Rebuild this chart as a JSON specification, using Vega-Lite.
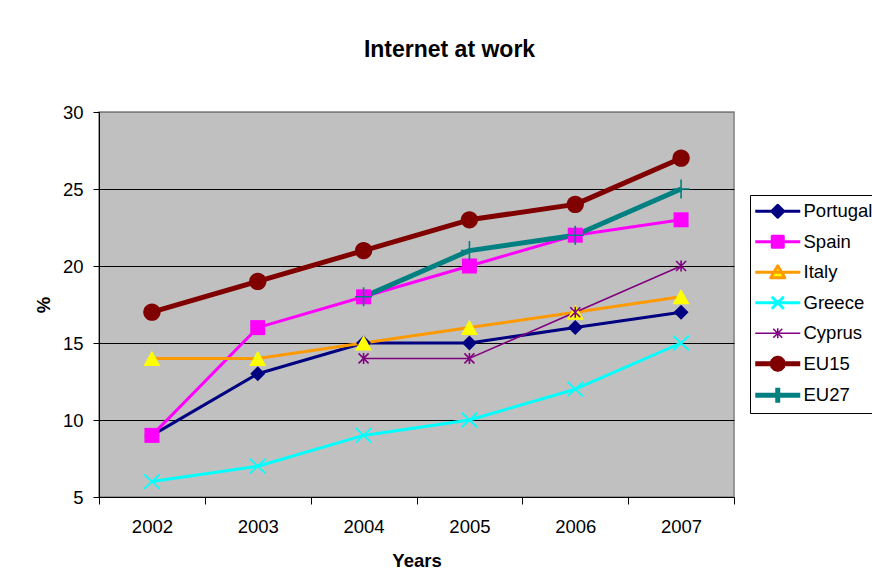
{
  "$schema": "https://vega.github.io/schema/vega-lite/v6.json",
  "width": 635,
  "height": 385,
  "autosize": {"type": "none"},
  "padding": {"left": 99, "top": 112, "right": 138, "bottom": 88},
  "background": "white",
  "title": {
    "text": "Internet at work",
    "fontSize": 23,
    "fontWeight": "bold",
    "font": "Liberation Sans",
    "color": "black",
    "anchor": "middle",
    "dx": 33,
    "offset": 23,
    "baseline": "alphabetic"
  },
  "config": {
    "font": "Liberation Sans",
    "view": {"fill": "#C0C0C0", "stroke": "#808080", "strokeWidth": 1.5}
  },
  "data": {
    "values": [
      {"series": "Portugal", "year": "2002", "value": 9},
      {"series": "Portugal", "year": "2003", "value": 13},
      {"series": "Portugal", "year": "2004", "value": 15},
      {"series": "Portugal", "year": "2005", "value": 15},
      {"series": "Portugal", "year": "2006", "value": 16},
      {"series": "Portugal", "year": "2007", "value": 17},
      {"series": "Spain", "year": "2002", "value": 9},
      {"series": "Spain", "year": "2003", "value": 16},
      {"series": "Spain", "year": "2004", "value": 18},
      {"series": "Spain", "year": "2005", "value": 20},
      {"series": "Spain", "year": "2006", "value": 22},
      {"series": "Spain", "year": "2007", "value": 23},
      {"series": "Italy", "year": "2002", "value": 14},
      {"series": "Italy", "year": "2003", "value": 14},
      {"series": "Italy", "year": "2004", "value": 15},
      {"series": "Italy", "year": "2005", "value": 16},
      {"series": "Italy", "year": "2006", "value": 17},
      {"series": "Italy", "year": "2007", "value": 18},
      {"series": "Greece", "year": "2002", "value": 6},
      {"series": "Greece", "year": "2003", "value": 7},
      {"series": "Greece", "year": "2004", "value": 9},
      {"series": "Greece", "year": "2005", "value": 10},
      {"series": "Greece", "year": "2006", "value": 12},
      {"series": "Greece", "year": "2007", "value": 15},
      {"series": "Cyprus", "year": "2004", "value": 14},
      {"series": "Cyprus", "year": "2005", "value": 14},
      {"series": "Cyprus", "year": "2006", "value": 17},
      {"series": "Cyprus", "year": "2007", "value": 20},
      {"series": "EU15", "year": "2002", "value": 17},
      {"series": "EU15", "year": "2003", "value": 19},
      {"series": "EU15", "year": "2004", "value": 21},
      {"series": "EU15", "year": "2005", "value": 23},
      {"series": "EU15", "year": "2006", "value": 24},
      {"series": "EU15", "year": "2007", "value": 27},
      {"series": "EU27", "year": "2004", "value": 18},
      {"series": "EU27", "year": "2005", "value": 21},
      {"series": "EU27", "year": "2006", "value": 22},
      {"series": "EU27", "year": "2007", "value": 25}
    ]
  },
  "encoding": {
    "x": {
      "field": "year",
      "type": "ordinal",
      "scale": {"type": "band", "paddingInner": 0, "paddingOuter": 0},
      "axis": {
        "title": "Years",
        "labelAngle": 0,
        "labelFontSize": 18.5,
        "labelColor": "black",
        "labelPadding": 13,
        "tickBand": "extent",
        "tickSize": 7,
        "tickColor": "black",
        "domainColor": "black",
        "grid": false,
        "titleFontSize": 18.5,
        "titleFontWeight": "bold",
        "titleColor": "black",
        "titlePadding": 16
      }
    },
    "y": {
      "field": "value",
      "type": "quantitative",
      "scale": {"domain": [5, 30], "nice": false, "zero": false},
      "axis": {
        "title": "%",
        "values": [5, 10, 15, 20, 25, 30],
        "labelFontSize": 18.5,
        "labelColor": "black",
        "labelPadding": 10,
        "tickSize": 6,
        "tickColor": "black",
        "domainColor": "black",
        "grid": true,
        "gridColor": {"condition": {"test": "datum.value >= 30", "value": "#808080"}, "value": "black"},
        "gridWidth": 1,
        "gridOpacity": 1,
        "titleFontSize": 18.5,
        "titleFontWeight": "bold",
        "titleColor": "black",
        "titlePadding": 9
      }
    }
  },
  "layer": [
    {
      "encoding": {
        "stroke": {
          "field": "series",
          "type": "nominal",
          "scale": {
            "domain": ["Portugal", "Spain", "Italy", "Greece", "Cyprus", "EU15", "EU27"],
            "range": ["#000080", "#FF00FF", "#FF9900", "#00FFFF", "#800080", "#800000", "#008080"]
          },
          "legend": {
            "title": null,
            "orient": "none",
            "legendX": 651,
            "legendY": 83,
            "strokeColor": "black",
            "fillColor": "white",
            "padding": 7,
            "symbolSize": 400,
            "symbolStrokeWidth": 1.5,
            "labelFontSize": 18.5,
            "labelColor": "black",
            "labelOffset": 28,
            "labelLimit": 400,
            "rowPadding": 11.5,
            "encode": {
              "symbols": {
                "update": {
                  "shape": {"signal": "datum.value === 'Portugal' ? 'M-1.1,0L3.4,0M1.15,-0.6L1.75,0L1.15,0.6L0.55,0Z' : datum.value === 'Spain' ? 'M-1.1,0L3.4,0M0.6,-0.55L1.7,-0.55L1.7,0.55L0.6,0.55Z' : datum.value === 'Italy' ? 'M-1.1,0L3.4,0M1.15,-0.65L1.85,0.55L0.45,0.55Z' : datum.value === 'Greece' ? 'M-1.1,0L3.4,0M0.55,-0.6L1.75,0.6M0.55,0.6L1.75,-0.6' : datum.value === 'Cyprus' ? 'M-1.1,0L3.4,0M0.7,-0.45L1.6,0.45M0.7,0.45L1.6,-0.45M1.15,-0.5L1.15,0.5' : datum.value === 'EU15' ? 'M-1.1,0L3.4,0M1.7,0L1.63,0.28L1.43,0.48L1.15,0.55L0.87,0.48L0.67,0.28L0.6,0L0.67,-0.28L0.87,-0.48L1.15,-0.55L1.43,-0.48L1.63,-0.28Z' : 'M-1.1,0L3.4,0M1.15,-0.75L1.15,0.75'"},
                  "fill": {"signal": "datum.value === 'Portugal' ? '#000080' : datum.value === 'Spain' ? '#FF00FF' : datum.value === 'Italy' ? '#FFFF00' : datum.value === 'EU15' ? '#800000' : 'transparent'"},
                  "stroke": {"signal": "datum.value === 'Portugal' ? '#000080' : datum.value === 'Spain' ? '#FF00FF' : datum.value === 'Italy' ? '#FF9900' : datum.value === 'Greece' ? '#00FFFF' : datum.value === 'Cyprus' ? '#800080' : datum.value === 'EU15' ? '#800000' : '#008080'"},
                  "strokeWidth": {"signal": "datum.value === 'Cyprus' ? 1.5 : (datum.value === 'EU15' || datum.value === 'EU27') ? 5 : 3"},
                  "strokeJoin": {"value": "round"},
                  "opacity": {"value": 1}
                }
              }
            }
          }
        }
      },
      "layer": [
        {
          "transform": [{"filter": {"field": "series", "oneOf": ["Portugal", "Spain", "Italy", "Greece"]}}],
          "mark": {"type": "line", "strokeWidth": 3, "strokeJoin": "round"}
        },
        {
          "transform": [{"filter": {"field": "series", "oneOf": ["Cyprus"]}}],
          "mark": {"type": "line", "strokeWidth": 1.5, "strokeJoin": "round"}
        },
        {
          "transform": [{"filter": {"field": "series", "oneOf": ["EU15", "EU27"]}}],
          "mark": {"type": "line", "strokeWidth": 5, "strokeJoin": "round"}
        }
      ]
    },
    {
      "transform": [{"filter": {"field": "series", "oneOf": ["Portugal"]}}],
      "mark": {"type": "point", "shape": "M0,-1.5L1.5,0L0,1.5L-1.5,0Z", "filled": true, "fill": "#000080", "size": 100, "opacity": 1, "strokeWidth": 0}
    },
    {
      "transform": [{"filter": {"field": "series", "oneOf": ["Spain"]}}],
      "mark": {"type": "point", "shape": "M-1.5,-1.5L1.5,-1.5L1.5,1.5L-1.5,1.5Z", "filled": true, "fill": "#FF00FF", "size": 100, "opacity": 1, "strokeWidth": 0}
    },
    {
      "transform": [{"filter": {"field": "series", "oneOf": ["Italy"]}}],
      "mark": {"type": "point", "shape": "M0,-1.55L1.7,1.5L-1.7,1.5Z", "filled": true, "fill": "#FFFF00", "size": 100, "opacity": 1, "strokeWidth": 0}
    },
    {
      "transform": [{"filter": {"field": "series", "oneOf": ["EU15"]}}],
      "mark": {"type": "point", "shape": "M-1.73,0A1.73,1.73 0 1,0 1.73,0A1.73,1.73 0 1,0 -1.73,0Z", "filled": true, "fill": "#800000", "size": 100, "opacity": 1, "strokeWidth": 0}
    },
    {
      "transform": [{"filter": {"field": "series", "oneOf": ["Greece"]}}],
      "mark": {"type": "point", "shape": "M-1.55,-1.45L1.55,1.45M-1.55,1.45L1.55,-1.45", "filled": false, "stroke": "#00FFFF", "size": 100, "opacity": 1, "strokeWidth": 1.8}
    },
    {
      "transform": [{"filter": {"field": "series", "oneOf": ["Cyprus"]}}],
      "mark": {"type": "point", "shape": "M-1,-1L1,1M-1,1L1,-1M0,-1.1L0,1.1", "filled": false, "stroke": "#800080", "size": 100, "opacity": 1, "strokeWidth": 1.6}
    },
    {
      "transform": [{"filter": {"field": "series", "oneOf": ["EU27"]}}],
      "mark": {"type": "point", "shape": "M-1.7,0L1.7,0M0,-1.9L0,1.9", "filled": false, "stroke": "#008080", "size": 100, "opacity": 1, "strokeWidth": 1.6}
    }
  ]
}
